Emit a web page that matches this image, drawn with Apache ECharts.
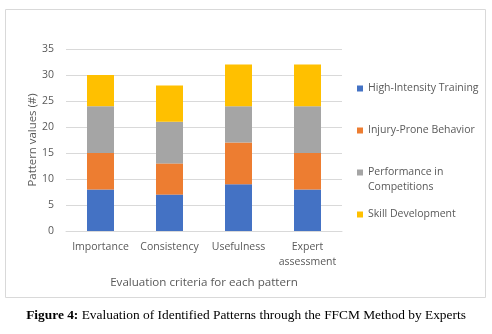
<!DOCTYPE html>
<html>
<head>
<meta charset="utf-8">
<script src="https://cdn.jsdelivr.net/npm/echarts@6/dist/echarts.min.js"></script>
<style>
  html, body { margin: 0; padding: 0; background: #fff; }
  #chart { width: 492px; height: 334px; }
</style>
</head>
<body>
<div id="chart"></div>
<script>
// Evaluation criteria (x categories)
const categories = ['Importance', 'Consistency', 'Usefulness', 'Expert\nassessment'];

// Pattern scores per criterion
const highIntensityTraining = [8, 7, 9, 8];
const injuryProneBehavior = [7, 6, 8, 7];
const performanceInCompetitions = [9, 8, 7, 9];
const skillDevelopment = [6, 7, 8, 8];

const seriesNames = ['High-Intensity Training', 'Injury-Prone Behavior', 'Performance in Competitions', 'Skill Development'];
const seriesValues = [highIntensityTraining, injuryProneBehavior, performanceInCompetitions, skillDevelopment];
const colors = ['#4472C4', '#ED7D31', '#A5A5A5', '#FFC000'];

const yTicks = { min: 0, max: 35, interval: 5 };

const font = 'Open Sans';
const textGray = '#595959';

const chart = echarts.init(document.getElementById('chart'), null, { renderer: 'canvas' });

function legendAt(name, top, extra) {
  return Object.assign({
    data: [name],
    orient: 'vertical',
    left: 357,
    top: top,
    itemWidth: 6,
    itemHeight: 6,
    itemGap: 0,
    padding: 0,
    icon: 'rect',
    selectedMode: false,
    textStyle: { fontFamily: font, fontSize: 10.5, color: textGray, lineHeight: 15 }
  }, extra || {});
}

chart.setOption({
  animation: false,
  color: colors,
  graphic: [
    {
      type: 'rect',
      shape: { x: 5.5, y: 9.5, width: 480, height: 288 },
      style: { fill: 'none', stroke: '#d9d9d9', lineWidth: 1 },
      silent: true
    },
    {
      type: 'text',
      left: 'center',
      top: 309,
      style: {
        text: '{b|Figure 4:} Evaluation of Identified Patterns through the FFCM Method by Experts',
        rich: {
          b: { fontFamily: 'Liberation Serif', fontSize: 13.4, fontWeight: 'bold', fill: '#000' }
        },
        fontFamily: 'Liberation Serif',
        fontSize: 13.4,
        fill: '#000'
      }
    }
  ],
  grid: { left: 66, right: 150, top: 49, bottom: 103 },
  legend: [
    legendAt(seriesNames[0], 81),
    legendAt(seriesNames[1], 123),
    // blank leading line keeps the swatch level with the first text line
    legendAt(seriesNames[2], 150, { formatter: '\nPerformance in\nCompetitions' }),
    legendAt(seriesNames[3], 207)
  ],
  xAxis: {
    type: 'category',
    data: categories,
    axisLine: { lineStyle: { color: '#d9d9d9' } },
    axisTick: { show: false },
    axisLabel: { fontFamily: font, fontSize: 10.5, color: textGray, margin: 9, lineHeight: 15, interval: 0 },
    name: 'Evaluation criteria for each pattern',
    nameLocation: 'middle',
    nameGap: 46,
    nameMoveOverlap: false,
    nameTextStyle: { fontFamily: font, fontSize: 11.6, color: textGray }
  },
  yAxis: {
    type: 'value',
    min: yTicks.min,
    max: yTicks.max,
    interval: yTicks.interval,
    axisLine: { show: false },
    axisTick: { show: false },
    splitLine: { lineStyle: { color: '#d9d9d9' } },
    axisLabel: { fontFamily: font, fontSize: 10.5, color: textGray, margin: 12 },
    name: 'Pattern values (#)',
    nameLocation: 'middle',
    nameGap: 28,
    nameMoveOverlap: false,
    nameTextStyle: { fontFamily: font, fontSize: 11.4, color: textGray }
  },
  series: seriesNames.map((name, i) => ({
    name: name,
    type: 'bar',
    stack: 'total',
    barWidth: 27,
    data: seriesValues[i],
    itemStyle: { color: colors[i] }
  }))
});
</script>
</body>
</html>
